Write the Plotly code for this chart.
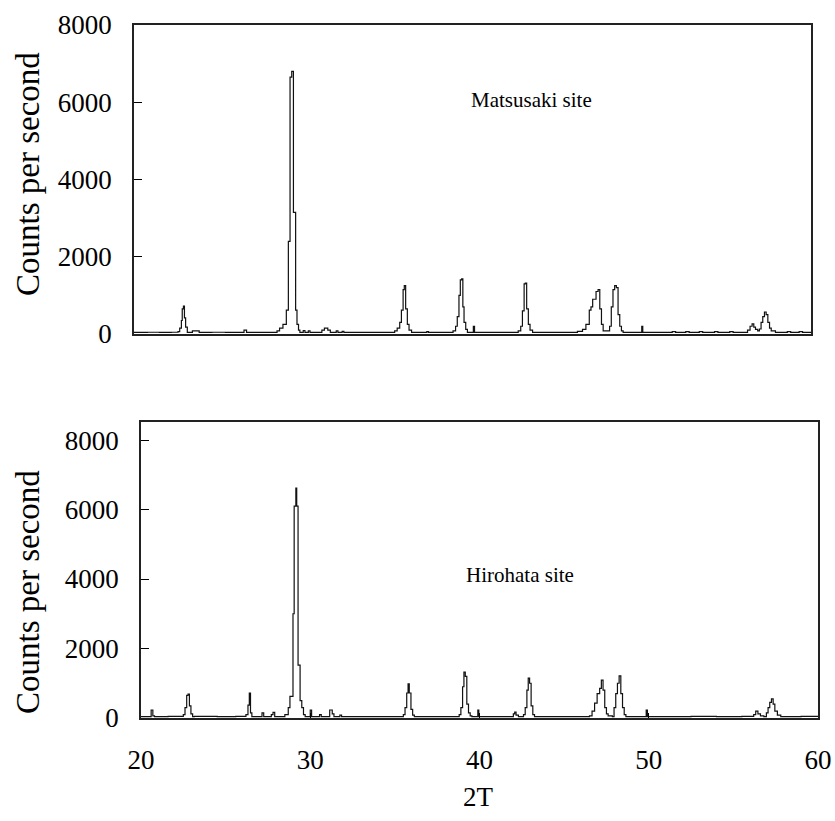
import plotly.graph_objects as go

# ---- data: (2-theta, counts per second) ----
matsusaki_2t = [20.0, 20.8, 21.5, 22.2, 22.6, 22.7, 22.8, 22.85, 22.92, 22.98, 23.05, 23.15,
                23.45, 23.85, 24.6, 25.4, 26.5, 26.65, 27.5, 28.45, 28.6, 28.8, 29.0, 29.12,
                29.22, 29.32, 29.42, 29.55, 29.63, 29.72, 29.8, 30.0, 30.1, 30.3, 30.4,
                31.1, 31.25, 31.45, 31.6, 31.95, 32.05, 32.3, 32.4, 34.0, 35.4, 35.55, 35.7,
                35.8, 35.9, 35.97, 36.05, 36.15, 36.25, 36.4, 37.3, 37.4, 38.85, 39.0, 39.1,
                39.2, 39.28, 39.36, 39.43, 39.5, 39.6, 39.7, 40.05, 40.12, 41.5, 42.7, 42.85,
                42.95, 43.05, 43.12, 43.2, 43.3, 43.4, 43.55, 45.0, 46.2, 46.5, 46.7, 46.9,
                47.0, 47.1, 47.3, 47.42, 47.52, 47.62, 47.72, 48.1, 48.2, 48.3, 48.4, 48.5,
                48.6, 48.7, 48.8, 48.9, 50.0, 50.06, 51.0, 51.8, 52.0, 52.6, 52.8, 53.4, 53.6,
                54.3, 54.5, 55.2, 55.4, 56.25, 56.4, 56.52, 56.62, 56.72, 56.85, 56.95, 57.05,
                57.15, 57.25, 57.35, 57.45, 57.55, 57.65, 57.9, 58.6, 58.8, 59.3, 59.5, 60.0]
matsusaki_cps = [40, 45, 40, 45, 60, 150, 350, 650, 720, 420, 180, 40,
                 80, 40, 45, 40, 100, 40, 40, 80, 150, 250, 620, 2400,
                 6650, 6800, 3150, 620, 250, 100, 40, 90, 40, 80, 40,
                 100, 150, 100, 40, 80, 40, 70, 40, 40, 80, 150, 300,
                 620, 1150, 1250, 650, 250, 100, 40, 60, 40, 80, 200, 450,
                 1000, 1400, 1430, 700, 300, 120, 40, 200, 40, 40, 80, 200,
                 600, 1300, 1320, 650, 250, 100, 40, 40, 70, 120, 250, 620,
                 700, 900, 1100, 1150, 650, 250, 80, 200, 700, 1150, 1250, 1200,
                 500, 200, 80, 40, 200, 40, 40, 60, 40, 60, 40, 60, 40,
                 60, 40, 60, 40, 100, 200, 260, 180, 120, 80, 130, 300,
                 450, 570, 500, 300, 150, 80, 40, 60, 40, 60, 40, 40]

hirohata_2t = [20.0, 20.6, 20.7, 20.8, 21.6, 22.5, 22.6, 22.7, 22.78, 22.86, 22.95, 23.05,
               23.15, 24.5, 25.6, 26.2, 26.32, 26.4, 26.47, 26.55, 27.15, 27.25, 27.7, 27.8,
               27.9, 28.5, 28.7, 28.8, 28.98, 29.05, 29.15, 29.2, 29.28, 29.4, 29.5, 29.6,
               29.7, 30.0, 30.08, 30.55, 30.65, 31.15, 31.3, 31.4, 31.75, 31.85, 33.5, 35.5,
               35.6, 35.7, 35.78, 35.85, 35.95, 36.05, 36.15, 37.5, 38.8, 38.9, 39.0, 39.08,
               39.16, 39.25, 39.35, 39.45, 39.55, 39.9, 39.96, 41.0, 42.0, 42.08, 42.16, 42.3,
               42.6, 42.7, 42.8, 42.88, 42.96, 43.05, 43.15, 43.25, 44.5, 46.5, 46.65, 46.8,
               46.95, 47.1, 47.2, 47.3, 47.4, 47.5, 47.6, 47.85, 47.95, 48.05, 48.15, 48.25,
               48.35, 48.45, 48.55, 48.65, 49.85, 49.92, 51.0, 52.5, 54.0, 55.5, 56.2, 56.32,
               56.45, 56.6, 56.8, 56.95, 57.05, 57.15, 57.25, 57.35, 57.45, 57.6, 57.8, 59.0, 60.0]
hirohata_cps = [40, 230, 60, 40, 45, 100, 300, 650, 690, 350, 120, 40,
                45, 40, 45, 100, 370, 720, 150, 40, 150, 40, 100, 160,
                40, 100, 300, 620, 3000, 6100, 6620, 6100, 1520, 500, 300, 100,
                40, 230, 40, 100, 40, 230, 120, 40, 80, 40, 40, 100,
                300, 720, 980, 720, 250, 80, 40, 40, 100, 300, 900, 1320,
                1200, 400, 150, 60, 40, 230, 40, 40, 120, 170, 80, 40,
                100, 300, 800, 1150, 1000, 350, 100, 40, 40, 60, 200, 430,
                700, 850, 1090, 800, 300, 120, 60, 40, 300, 700, 1000, 1210,
                700, 300, 100, 40, 230, 40, 40, 45, 40, 45, 100, 200,
                120, 60, 40, 150, 300, 450, 550, 400, 200, 80, 40, 45, 40]

y_ticks = [0, 2000, 4000, 6000, 8000]
x_ticks = [20, 30, 40, 50, 60]
labels = {"top": "Matsusaki site", "bottom": "Hirohata site",
          "ytitle": "Counts per second", "xtitle": "2T"}

W, H = 835, 821
FONT = "Liberation Serif"

def px_x(v):
    return v / W

def px_y(v):
    return 1 - v / H

fig = go.Figure()
fig.add_trace(go.Scatter(x=matsusaki_2t, y=matsusaki_cps, mode="lines", line_shape="hv",
                         line=dict(color="#111", width=1.2), xaxis="x", yaxis="y",
                         showlegend=False, hoverinfo="skip"))
fig.add_trace(go.Scatter(x=hirohata_2t, y=hirohata_cps, mode="lines", line_shape="hv",
                         line=dict(color="#111", width=1.2), xaxis="x2", yaxis="y2",
                         showlegend=False, hoverinfo="skip"))

axis_common = dict(showgrid=False, zeroline=False, showline=True, linecolor="#222",
                   linewidth=1.5, mirror=True, automargin=False,
                   tickfont=dict(family=FONT, size=27, color="black"))

fig.update_layout(
    template="none",
    width=W, height=H, margin=dict(l=0, r=0, t=0, b=0, pad=0, autoexpand=False),
    paper_bgcolor="white", plot_bgcolor="white",
    xaxis=dict(domain=[px_x(134), px_x(811)], range=[20, 60], anchor="y",
               tickvals=x_ticks, showticklabels=False, ticks="", **axis_common),
    yaxis=dict(domain=[px_y(334), px_y(25)], range=[0, 8000], anchor="x",
               tickvals=y_ticks, ticks="inside", ticklen=8, tickcolor="black",
               ticklabelstandoff=15, **axis_common),
    xaxis2=dict(domain=[px_x(141), px_x(818)], range=[20, 60], anchor="y2",
                tickvals=x_ticks, ticks="inside", ticklen=5, tickcolor="black",
                ticklabelstandoff=17, **axis_common),
    yaxis2=dict(domain=[px_y(718), px_y(422)], range=[0, 8520], anchor="x2",
                tickvals=y_ticks, ticks="inside", ticklen=8, tickcolor="black",
                ticklabelstandoff=15, **axis_common),
)

ann = [
    dict(text=labels["top"], x=px_x(531), y=px_y(100), size=21, angle=0),
    dict(text=labels["bottom"], x=px_x(520), y=px_y(575), size=21, angle=0),
    dict(text=labels["ytitle"], x=px_x(28), y=px_y(174), size=33, angle=-90),
    dict(text=labels["ytitle"], x=px_x(28), y=px_y(592), size=33, angle=-90),
    dict(text=labels["xtitle"], x=px_x(478), y=px_y(797), size=27, angle=0),
]
for a in ann:
    fig.add_annotation(text=a["text"], x=a["x"], y=a["y"], xref="paper", yref="paper",
                       showarrow=False, textangle=a["angle"], xanchor="center", yanchor="middle",
                       font=dict(family=FONT, size=a["size"], color="black"))

fig.write_html("out.html", config={"displayModeBar": False},
               post_script="document.body.style.margin='0px';")
